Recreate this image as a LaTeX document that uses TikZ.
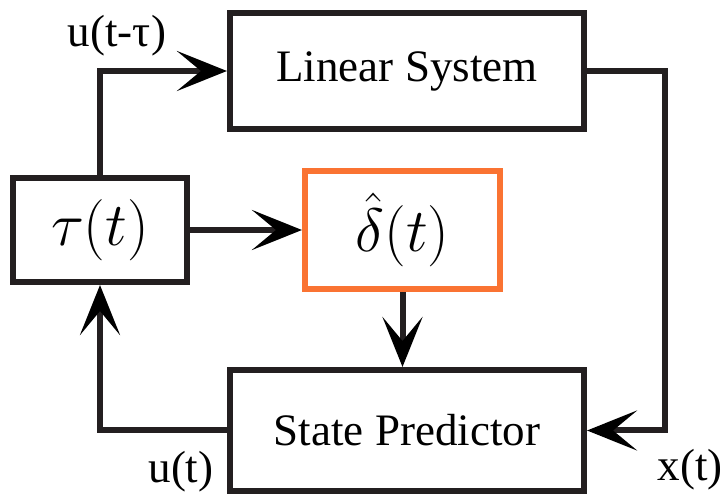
\documentclass[tikz,border=0pt]{standalone}
\usepackage{fontspec}
\setmainfont{Liberation Serif}
\usetikzlibrary{arrows.meta,positioning}
\definecolor{linegray}{RGB}{35,31,32}
\definecolor{predorange}{RGB}{250,115,50}

\begin{document}
\begin{tikzpicture}[x=0.025cm,y=-0.025cm,
  block/.style={draw=linegray, line width=0.15cm, inner sep=0pt,
    font=\fontsize{32}{38}\selectfont},
  sig/.style={font=\fontsize{32}{38}\selectfont, inner sep=0pt},
  arr/.style={draw=linegray, line width=0.15cm,
    -{Stealth[length=1.25cm,width=1cm,inset=0.6cm,color=black]}}]
\useasboundingbox (0,0) rectangle (726,498);
% blocks
\node[block, minimum width=8.85cm, minimum height=2.9cm] (lin) at (407,71) {Linear System};
\node[block, minimum width=4.35cm, minimum height=2.6cm] (tau) at (100,230)
  {\fontsize{20}{24}\selectfont\scalebox{2.1}{$\tau(t)$}};
\node[block, draw=predorange, minimum width=4.875cm, minimum height=2.95cm] (delta) at (402.5,230)
  {\fontsize{20}{24}\selectfont\scalebox{2.1}{$\hat{\delta}(t)$}};
\node[block, minimum width=8.85cm, minimum height=3.025cm] (sp) at (407,430.5) {State Predictor};
\coordinate (xr) at (665,71);
% signals
\node[sig] (ulag) at (117,36) {u(t-τ)};
\node[sig] (xout) at (690,470) {x(t)};
\node[sig] (uin) at (181,472) {u(t)};
% connections
\draw[arr] (tau.north) |- (lin.west);
\draw[arr] (lin.east) -- (xr) |- (sp.east);
\draw[arr] (tau.east) -- (delta.west);
\draw[arr] (delta.south) -- (delta.south |- sp.north);
\draw[arr] (sp.west) -| (tau.south);
\end{tikzpicture}
\end{document}
